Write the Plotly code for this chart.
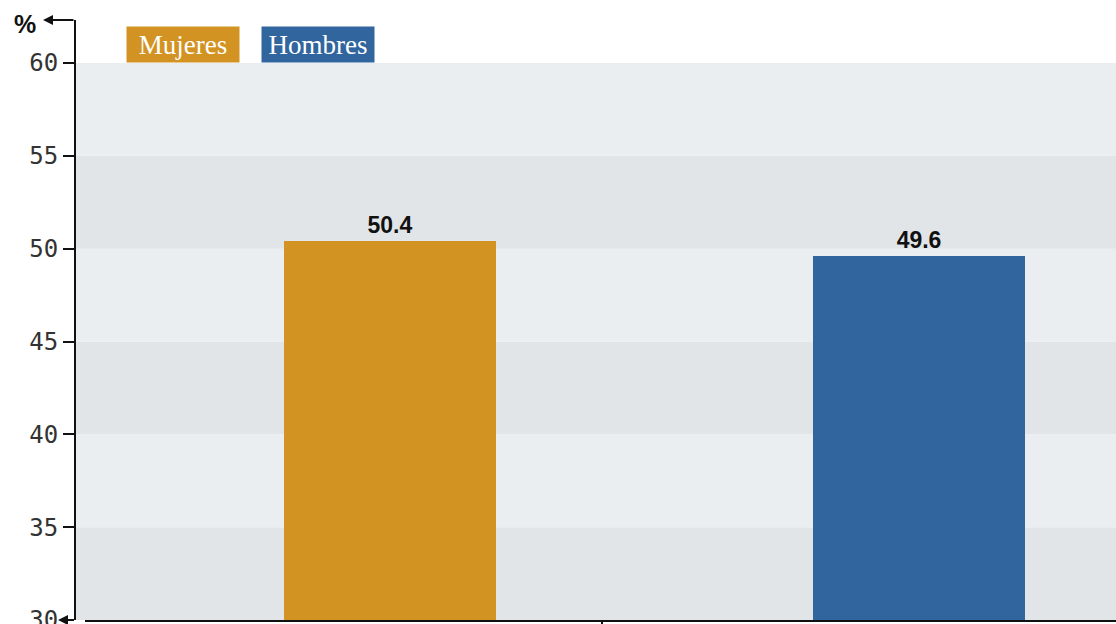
import plotly.graph_objects as go

categories = ["Mujeres", "Hombres"]
values = [50.4, 49.6]
colors = ["#D29323", "#31659D"]
y_ticks = [30, 35, 40, 45, 50, 55, 60]
band_colors = ["#E1E5E8", "#EAEEF1"]

W, H = 1116, 624
x_pos = list(range(len(categories)))

fig = go.Figure()
fig.add_trace(go.Bar(
    x=x_pos, y=values, width=0.4,
    marker=dict(color=colors, line=dict(width=0)),
    text=[f"<b>{v:.1f}</b>" for v in values], textposition="outside",
    textfont=dict(family="Liberation Sans, Arial", size=23, color="#111111"),
    cliponaxis=False, showlegend=False, hoverinfo="skip",
))

shapes = []
for i in range(len(y_ticks) - 1):
    shapes.append(dict(type="rect", xref="paper", yref="y",
                       x0=76 / W, x1=1, y0=y_ticks[i], y1=y_ticks[i + 1],
                       fillcolor=band_colors[i % 2], line=dict(width=0), layer="below"))

annotations = []
leg_x = [183, 318]
for name, col, px in zip(categories, colors, leg_x):
    annotations.append(dict(x=px / W, y=(620 - 44.5) / 600, xref="paper", yref="paper",
                            text=name, showarrow=False, bgcolor=col, width=110, height=33,
                            font=dict(family="Liberation Serif, serif", size=27, color="white"),
                            xanchor="center", yanchor="middle", borderpad=1))
annotations.append(dict(x=25 / W, y=(620 - 24) / 600, xref="paper", yref="paper", text="<b>%</b>",
                        showarrow=False, font=dict(family="Liberation Sans, Arial", size=25, color="#111111"),
                        xanchor="center", yanchor="middle"))
annotations.append(dict(x=43 / W, y=1.0, xref="paper", yref="paper", text="",
                        showarrow=True, ax=32, ay=0, axref="pixel", ayref="pixel",
                        arrowhead=2, arrowsize=1, arrowwidth=2, arrowcolor="#111111", standoff=0))
annotations.append(dict(x=58 / W, y=0, xref="paper", yref="paper", text="",
                        showarrow=True, ax=17, ay=0, axref="pixel", ayref="pixel",
                        arrowhead=2, arrowsize=1, arrowwidth=2, arrowcolor="#111111", standoff=0))

fig.update_layout(
    width=W, height=H,
    margin=dict(l=0, r=0, t=20, b=4, autoexpand=False),
    plot_bgcolor="rgba(0,0,0,0)", paper_bgcolor="white",
    shapes=shapes, annotations=annotations,
    xaxis=dict(domain=[85 / W, 1], range=[(85 - 390) / 529, 1 + (1116 - 919) / 529],
               showgrid=False, zeroline=False, showline=True, linecolor="#111111", linewidth=2,
               tickvals=[0.4], ticks="outside", ticklen=8, tickwidth=2, tickcolor="#111111",
               showticklabels=False, automargin=False),
    yaxis=dict(anchor="free", position=75 / W, range=[30, 60 + 43 / 18.57],
               tickvals=y_ticks, ticktext=[str(t) for t in y_ticks], automargin=False,
               ticklabeloverflow="allow",
               showgrid=False, zeroline=False, showline=True, linecolor="#111111", linewidth=2,
               ticks="outside", ticklen=11, tickwidth=2, tickcolor="#111111",
               tickfont=dict(family="DejaVu Sans Mono, monospace", size=24, color="#333333")),
    bargap=0,
)

fig.write_html("out.html", config={"displayModeBar": False},
               post_script="document.body.style.margin='0';document.body.style.overflow='hidden';")
